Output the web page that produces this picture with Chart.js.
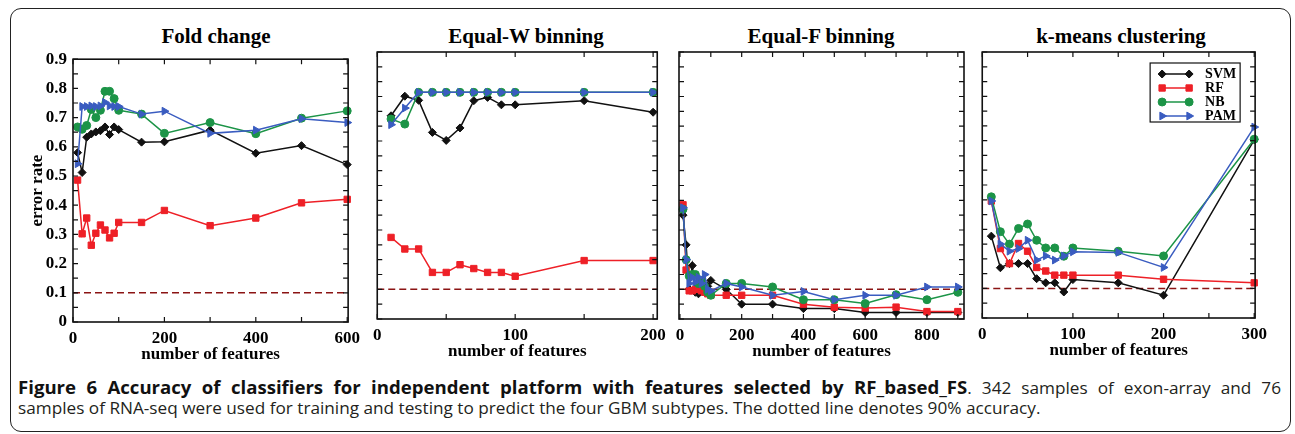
<!DOCTYPE html>
<html><head><meta charset="utf-8">
<script src="https://cdn.jsdelivr.net/npm/chart.js@4.4.1/dist/chart.umd.min.js"></script>
<style>
body{margin:0;background:#fff;width:1295px;height:434px;overflow:hidden;position:relative}
.frame{position:absolute;left:10px;top:8px;width:1279px;height:422px;border:1.5px solid #222;border-radius:11px}
.ttl{position:absolute;top:26px;width:300px;margin-left:-150px;font:bold 21px "Liberation Serif",serif;line-height:21px;text-align:center;white-space:nowrap;color:#000}
canvas{position:absolute}
.cap{position:absolute;left:18px;width:1263px;font-family:"Open Sans",sans-serif;font-size:17.2px;line-height:21px;color:#231f20;white-space:nowrap}
.l1{top:376px;text-align:justify;text-align-last:justify;white-space:normal}
.l1 b{font-size:18.6px;color:#111}
.l2{top:397px}
</style></head><body>
<div class="frame"></div>
<div class="ttl" style="left:216px">Fold change</div>
<div class="ttl" style="left:526px">Equal-W binning</div>
<div class="ttl" style="left:821px">Equal-F binning</div>
<div class="ttl" style="left:1121px">k-means clustering</div>
<canvas id="p1" width="339" height="325" style="left:27px;top:43px"></canvas>
<canvas id="p2" width="305" height="323" style="left:367px;top:42px"></canvas>
<canvas id="p3" width="305" height="323" style="left:669px;top:42px"></canvas>
<canvas id="p4" width="301" height="322" style="left:972px;top:42px"></canvas>
<div class="cap l1"><b>Figure 6 Accuracy of classifiers for independent platform with features selected by RF_based_FS</b>. 342 samples of exon-array and 76</div>
<div class="cap l2"><span>samples of RNA-seq were used for training and testing to predict the four GBM subtypes. The dotted line denotes 90% accuracy.</span></div>
<script>
const classifiers=['SVM','RF','NB','PAM'];
const cutoff=0.1;
const yTicks=[0,0.1,0.2,0.3,0.4,0.5,0.6,0.7,0.8,0.9];

const foldX=[10,20,30,40,50,60,70,80,90,100,150,200,300,400,500,600];
const foldTicks=[0,200,400,600];
const foldSVM=[0.580,0.512,0.633,0.644,0.651,0.655,0.668,0.642,0.668,0.659,0.616,0.617,0.657,0.578,0.604,0.539];
const foldRF=[0.486,0.302,0.356,0.263,0.304,0.332,0.315,0.288,0.304,0.341,0.341,0.382,0.330,0.356,0.408,0.420];
const foldNB=[0.668,0.660,0.673,0.728,0.700,0.725,0.790,0.790,0.765,0.725,0.712,0.646,0.683,0.645,0.698,0.723];
const foldPAM=[0.542,0.738,0.738,0.740,0.738,0.740,0.752,0.740,0.738,0.738,0.712,0.722,0.646,0.657,0.696,0.683];

const ewX=[10,20,30,40,50,60,70,80,90,100,150,200];
const ewTicks=[0,100,200];
const ewSVM=[0.685,0.751,0.737,0.629,0.602,0.644,0.736,0.747,0.722,0.722,0.736,0.697];
const ewRF=[0.275,0.236,0.236,0.157,0.157,0.183,0.170,0.157,0.157,0.144,0.197,0.197];
const ewNB=[0.674,0.657,0.764,0.764,0.764,0.764,0.764,0.764,0.764,0.764,0.764,0.764];
const ewPAM=[0.655,0.711,0.764,0.764,0.764,0.764,0.764,0.764,0.764,0.764,0.764,0.764];

const efX=[10,20,30,40,50,60,70,80,90,100,150,200,300,400,500,600,700,800,900];
const efTicks=[0,200,400,600,800];
const efSVM=[0.350,0.250,0.100,0.180,0.090,0.085,0.100,0.110,0.110,0.130,0.100,0.050,0.050,0.035,0.035,0.022,0.022,0.022,0.022];
const efRF=[0.385,0.165,0.095,0.095,0.100,0.100,0.095,0.090,0.085,0.080,0.080,0.080,0.080,0.050,0.040,0.037,0.040,0.025,0.025];
const efNB=[0.370,0.200,0.145,0.150,0.150,0.120,0.130,0.110,0.090,0.080,0.120,0.120,0.108,0.065,0.065,0.052,0.082,0.065,0.090];
const efPAM=[0.375,0.200,0.120,0.140,0.125,0.140,0.120,0.150,0.100,0.095,0.120,0.108,0.080,0.093,0.065,0.080,0.080,0.108,0.108];

const kmX=[10,20,30,40,50,60,70,80,90,100,150,200,300];
const kmTicks=[0,100,200,300];
const kmSVM=[0.277,0.170,0.184,0.184,0.184,0.133,0.119,0.119,0.088,0.130,0.119,0.077,0.603];
const kmRF=[0.396,0.235,0.184,0.252,0.226,0.171,0.159,0.145,0.145,0.145,0.145,0.131,0.119];
const kmNB=[0.410,0.292,0.250,0.303,0.318,0.263,0.237,0.237,0.209,0.237,0.226,0.210,0.605];
const kmPAM=[0.396,0.250,0.226,0.235,0.263,0.196,0.210,0.196,0.210,0.224,0.222,0.171,0.646];

const looks=[
  {borderColor:'#111',backgroundColor:'#111',pointStyle:'rectRot',pointRadius:4,order:4},
  {borderColor:'#ee2027',backgroundColor:'#ee2027',pointStyle:'rect',pointRadius:4.5,order:3},
  {borderColor:'#1c9447',backgroundColor:'#1c9447',pointStyle:'circle',pointRadius:4,order:2},
  {borderColor:'#3a5cc0',backgroundColor:'#3a5cc0',pointStyle:'triangle',pointRadius:4.5,pointRotation:90,order:1}];
const serif={family:'"Liberation Serif", serif',weight:'bold',size:17};

// inner tick marks on all four sides + box
const frameTicks={id:'frameTicks',afterDatasetsDraw(c,a,o){
  const {ctx,chartArea:{left,right,top,bottom}}=c, x=c.scales.x, y=c.scales.y;
  ctx.save();ctx.strokeStyle='#111';ctx.lineWidth=1.2;ctx.beginPath();
  for(let i=0;i<=18;i++){const p=y.getPixelForValue(i*0.05);ctx.moveTo(left,p);ctx.lineTo(left+5,p);ctx.moveTo(right,p);ctx.lineTo(right-5,p);}
  for(let v=Math.ceil(x.min/o.step)*o.step;v<=x.max;v+=o.step){const p=x.getPixelForValue(v);ctx.moveTo(p,bottom);ctx.lineTo(p,bottom-5);ctx.moveTo(p,top);ctx.lineTo(p,top+5);}
  ctx.stroke();ctx.lineWidth=1.6;ctx.strokeRect(left,top,right-left,bottom-top);ctx.restore();
}};

// gnuplot style key: line with a marker at both ends
const lineKey={id:'lineKey',afterDraw(c,a,o){
  if(!o.show)return;
  const {ctx,chartArea:{right,top}}=c, L=right-105, T=top+11;
  ctx.save();ctx.strokeStyle='#111';ctx.lineWidth=1.2;ctx.strokeRect(L,T,90,59);
  classifiers.forEach((n,i)=>{
    const ds=c.data.datasets[i], yy=T+11+i*14;
    ctx.strokeStyle=ds.borderColor;ctx.fillStyle=ds.backgroundColor;ctx.lineWidth=1.5;
    ctx.beginPath();ctx.moveTo(L+12,yy);ctx.lineTo(L+39,yy);ctx.stroke();
    ctx.lineWidth=1;
    [L+12,L+39].forEach(px=>Chart.helpers.drawPoint(ctx,{pointStyle:ds.pointStyle,radius:ds.pointRadius,rotation:ds.pointRotation||0,borderWidth:1},px,yy));
    ctx.fillStyle='#000';ctx.font='bold 14px "Liberation Serif"';ctx.textBaseline='middle';ctx.fillText(n,L+55,yy);
  });
  ctx.restore();
}};

function panel(id,xs,ys,xmin,xmax,xTicks,tickStep,showY,legend){
  const datasets=ys.map((arr,i)=>Object.assign({label:classifiers[i],data:xs.map((x,j)=>({x,y:arr[j]})),
    borderWidth:1.5,pointBorderWidth:1,tension:0,clip:8},looks[i]));
  datasets.push({label:'cutoff',data:[{x:xmin,y:cutoff},{x:xmax,y:cutoff}],borderColor:'#8b1414',
    borderDash:[7,4],borderWidth:1.5,pointRadius:0,order:5});
  new Chart(document.getElementById(id),{type:'line',data:{datasets},plugins:[frameTicks,lineKey],options:{
    responsive:false,animation:false,events:[],
    layout:{padding:{top:10,right:10,bottom:3,left:showY?0:10}},
    plugins:{legend:{display:false},tooltip:{enabled:false},frameTicks:{step:tickStep},lineKey:{show:legend}},
    scales:{
      x:{type:'linear',min:xmin,max:xmax,grid:{display:false,drawTicks:false},border:{display:false},
        ticks:{padding:6,color:'#000',font:serif,maxRotation:0,autoSkip:false},
        afterBuildTicks(s){s.ticks=xTicks.map(v=>({value:v}))},
        title:{display:true,text:'number of features',color:'#000',padding:0,font:serif},
        afterFit(s){s.height=43}},
      y:{min:0,max:0.9,display:showY,grid:{display:false,drawTicks:false},border:{display:false},
        ticks:{padding:6,color:'#000',font:serif,autoSkip:false},
        afterBuildTicks(s){s.ticks=yTicks.map(v=>({value:v}))},
        title:{display:true,text:'error rate',color:'#000',padding:0,font:serif},
        afterFit(s){s.width=showY?46:0}}
    }}});
}

panel('p1',foldX,[foldSVM,foldRF,foldNB,foldPAM],0,602,foldTicks,100,true,false);
panel('p2',ewX,[ewSVM,ewRF,ewNB,ewPAM],0,203,ewTicks,50,false,false);
panel('p3',efX,[efSVM,efRF,efNB,efPAM],-3,920,efTicks,100,false,false);
panel('p4',kmX,[kmSVM,kmRF,kmNB,kmPAM],0,301,kmTicks,50,false,true);
</script>
</body></html>
